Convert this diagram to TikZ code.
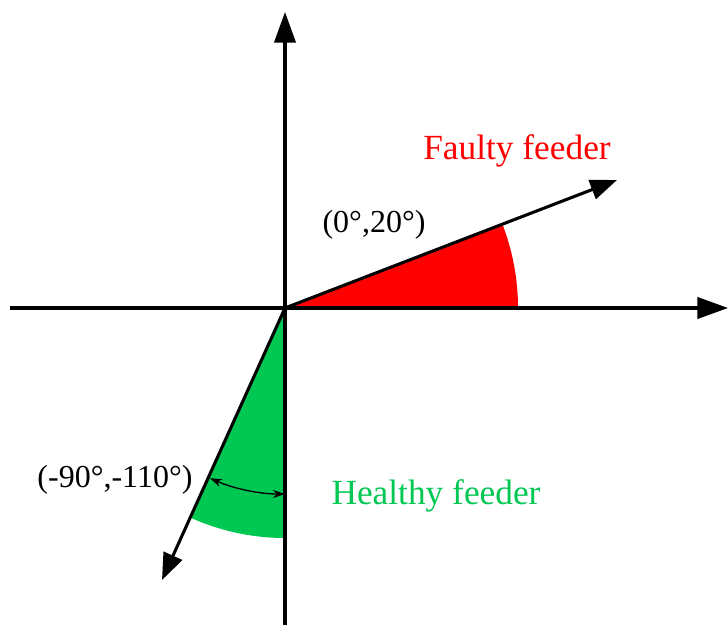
\documentclass[tikz,border=0pt]{standalone}
\usepackage{fontspec}
\setmainfont{Liberation Serif}
\usetikzlibrary{arrows.meta}
\definecolor{faultred}{RGB}{255,0,0}
\definecolor{healthgreen}{RGB}{0,200,83}
\tikzset{
  axis/.style={line width=2.3pt,-{Triangle[length=23pt,width=16pt]}},
  vec/.style={line width=2.3pt,-{Triangle[length=20pt,width=15pt]}},
  lbl/.style={font=\fontsize{24}{28}\selectfont,inner sep=0pt},
  feeder/.style={font=\fontsize{26.5}{30}\selectfont,inner sep=0pt},
  anglearrow/.style={line width=1pt,{Stealth[length=9pt,width=6pt]}-{Stealth[length=9pt,width=6pt]}}
}
\begin{document}
\begin{tikzpicture}[x=0.75pt,y=0.75pt]
\useasboundingbox (-285,-318) rectangle (443,308);
\coordinate (O) at (0,0);
% sectors
\fill[faultred] (O) -- (0:233) arc[start angle=0,end angle=21.1,radius=233] -- cycle;
\fill[healthgreen] (O) -- (-90:230) arc[start angle=-90,end angle=-114.3,radius=230] -- cycle;
% axes
\coordinate (xl) at (-275,0);
\coordinate (xr) at (443,0);
\coordinate (yb) at (0,-317);
\coordinate (yt) at (0,296);
\draw[axis] (xl) -- (xr);
\draw[axis] (yb) -- (yt);
% vectors
\coordinate (F) at (332,128);
\coordinate (H) at (-123,-272);
\draw[vec] (O) -- (F);
\draw[vec] (O) -- (H);
% angle arrow
\coordinate (a1) at (-90:186);
\draw[anglearrow] (a1) arc[start angle=-90,end angle=-113.8,radius=186];
% labels
\node[feeder,text=faultred] (fl) at (232,157) {Faulty feeder};
\node[lbl] (fa) at (89,83) {(0°,20°)};
\node[lbl] (ha) at (-170,-172) {(-90°,-110°)};
\node[feeder,text=healthgreen] (hl) at (151,-188) {Healthy feeder};
\end{tikzpicture}
\end{document}
